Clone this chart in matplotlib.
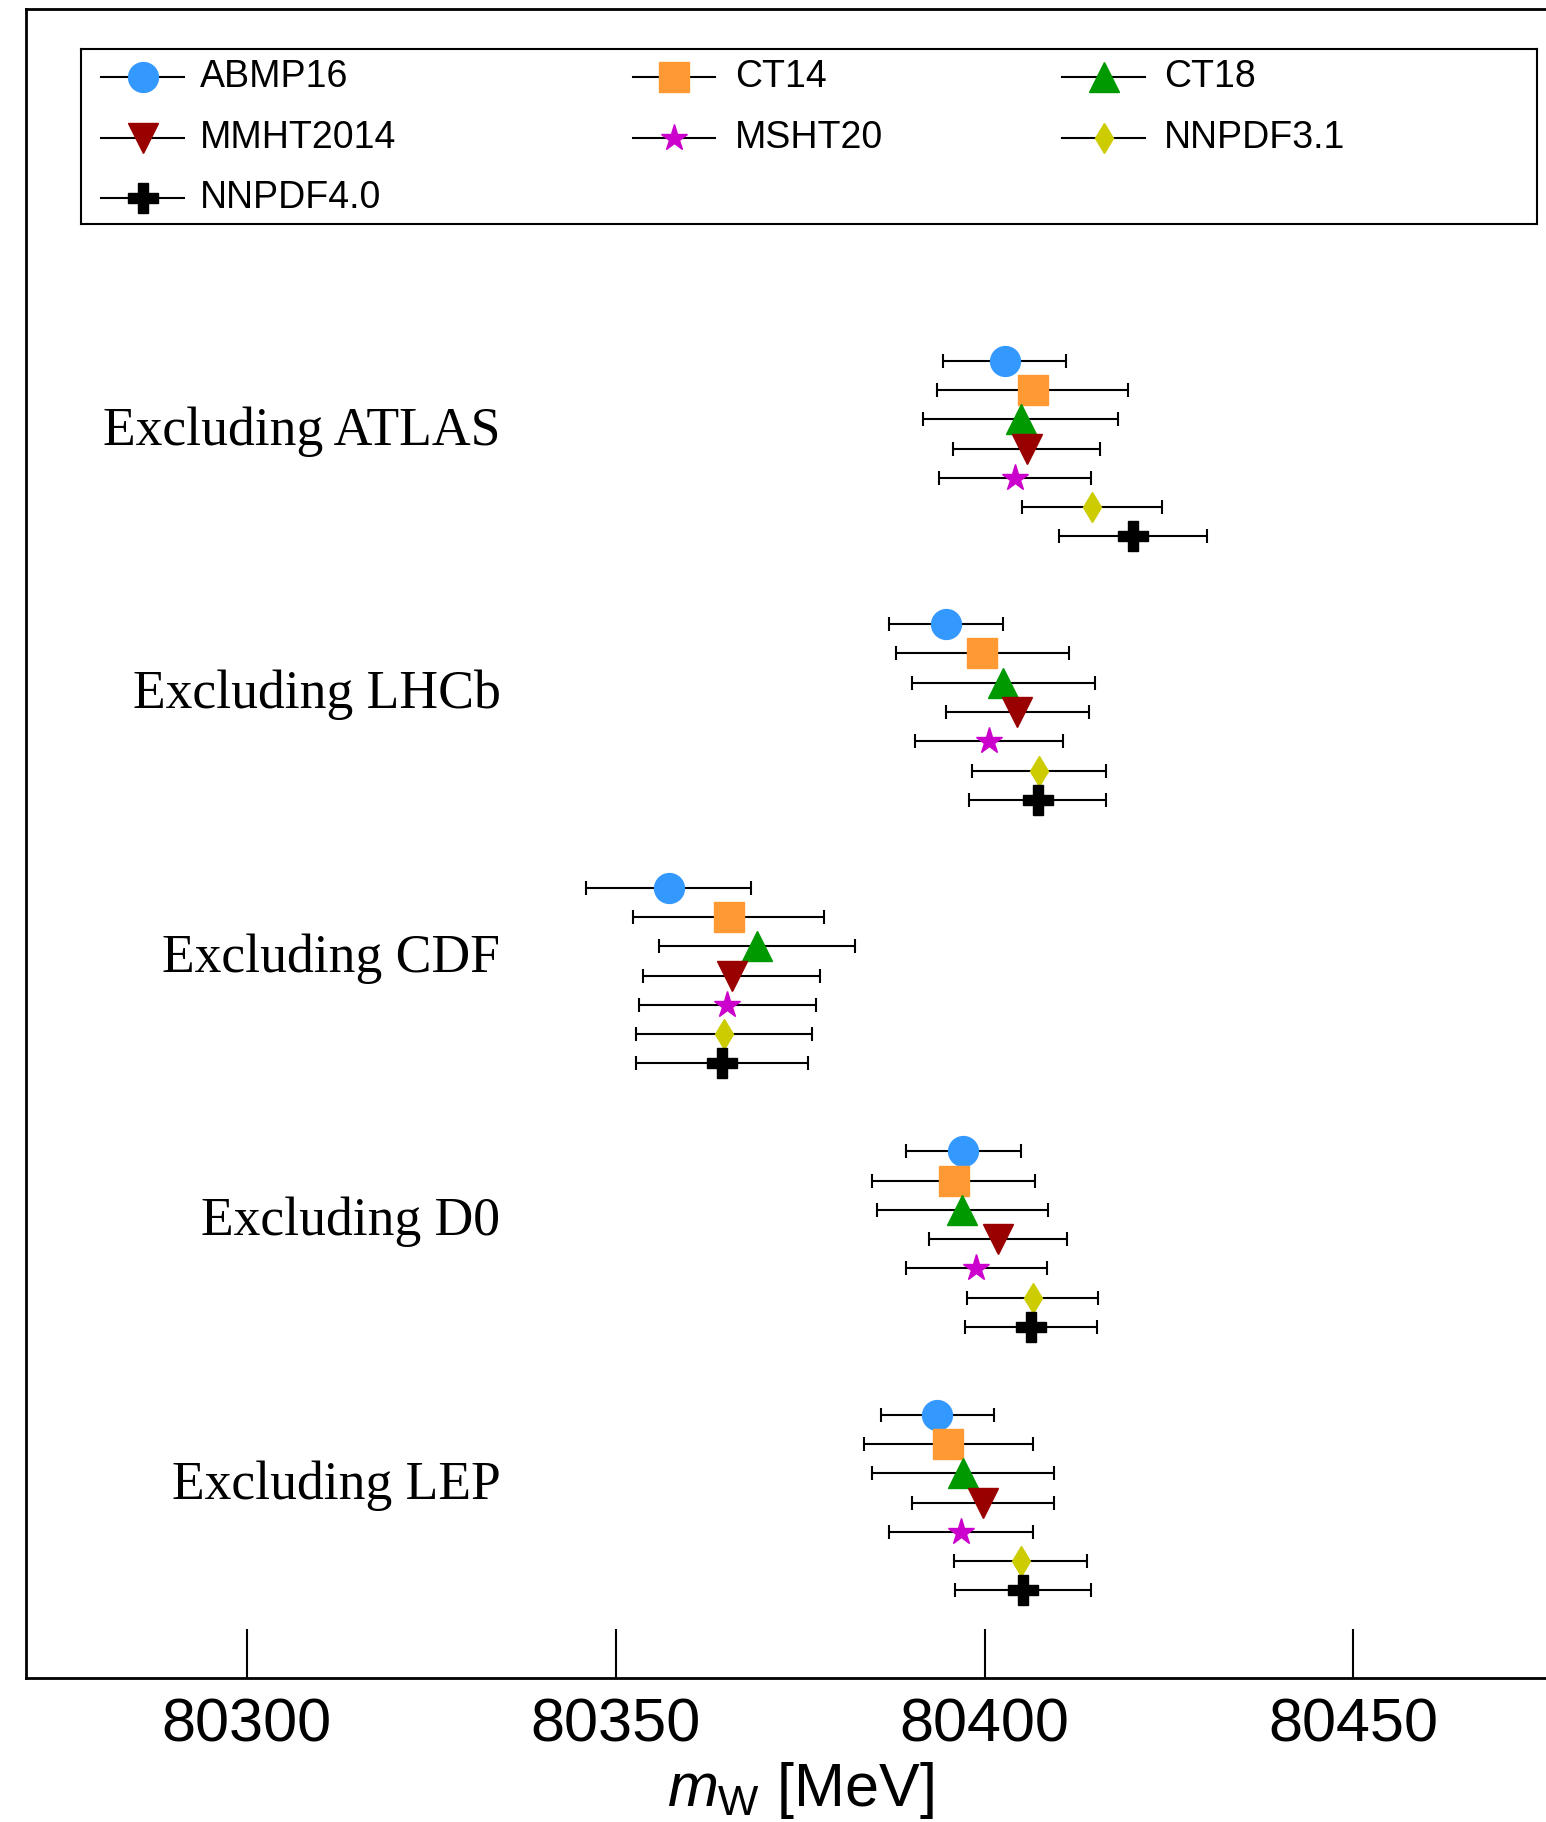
import numpy as np
import matplotlib
matplotlib.use("Agg")
import matplotlib.pyplot as plt

plt.rcParams['font.family'] = ['Liberation Sans', 'DejaVu Sans']
plt.rcParams['mathtext.fontset'] = 'custom'
plt.rcParams['mathtext.it'] = 'Liberation Sans:italic'
plt.rcParams['mathtext.rm'] = 'Liberation Sans'

# datasets excluded in each fit
groups = ['Excluding ATLAS', 'Excluding LHCb', 'Excluding CDF', 'Excluding D0', 'Excluding LEP']
pdfs = ['ABMP16', 'CT14', 'CT18', 'MMHT2014', 'MSHT20', 'NNPDF3.1', 'NNPDF4.0']

# m_W central values [MeV], one entry per group
mw_abmp16 = [80402.7, 80394.8, 80357.2, 80397.1, 80393.6]
mw_ct14 = [80406.5, 80399.7, 80365.3, 80395.8, 80395.1]
mw_ct18 = [80404.9, 80402.5, 80369.1, 80397.0, 80397.1]
mw_mmht2014 = [80405.7, 80404.4, 80365.7, 80401.8, 80399.8]
mw_msht20 = [80404.1, 80400.6, 80365.1, 80398.9, 80396.8]
mw_nnpdf31 = [80414.6, 80407.4, 80364.7, 80406.5, 80404.9]
mw_nnpdf40 = [80420.1, 80407.2, 80364.4, 80406.3, 80405.2]

# symmetric uncertainties [MeV]
err_abmp16 = [8.3, 7.7, 11.2, 7.8, 7.7]
err_ct14 = [12.9, 11.7, 12.9, 11.0, 11.5]
err_ct18 = [13.2, 12.4, 13.3, 11.6, 12.3]
err_mmht2014 = [10.0, 9.7, 12.0, 9.4, 9.6]
err_msht20 = [10.3, 10.0, 12.0, 9.5, 9.7]
err_nnpdf31 = [9.5, 9.1, 11.9, 8.9, 9.0]
err_nnpdf40 = [10.0, 9.3, 11.6, 9.0, 9.2]

xticks = [80300, 80350, 80400, 80450]

centrals = [mw_abmp16, mw_ct14, mw_ct18, mw_mmht2014, mw_msht20, mw_nnpdf31, mw_nnpdf40]
errors = [err_abmp16, err_ct14, err_ct18, err_mmht2014, err_msht20, err_nnpdf31, err_nnpdf40]
colors = ['#3399ff', '#ff9933', '#009900', '#990000', '#cc00cc', '#cccc00', '#000000']
markers = ['o', 's', '^', 'v', '*', 'd', 'P']
msizes = [21.5, 22, 21.5, 21.5, 20, 15, 21.5]

W, H = 1546, 1822
fig = plt.figure(figsize=(W / 100, H / 100), dpi=100)
ax = fig.add_axes([25.6 / W, 143.7 / H, 210 * 7.377 / W, (1678.3 - 9.3) / H])

n = len(pdfs)
step = n + 2
for i in range(n):
    rows = np.arange(len(groups)) * step + i
    ax.errorbar(centrals[i], rows, xerr=errors[i], fmt=markers[i], color=colors[i],
                ms=msizes[i], mec=colors[i], ecolor='k', elinewidth=1.5,
                capsize=4.7, capthick=1.5, zorder=3)

for g, name in enumerate(groups):
    ax.text(0.3065, g * step + 2.42, name, transform=ax.get_yaxis_transform(),
            ha='right', va='center', fontsize=38.6, family='Liberation Serif')

ax.set_xlim(80270, 80480)
ax.set_ylim(len(groups) * step, -12)
ax.set_yticks([])
ax.set_xticks(xticks)
ax.tick_params(axis='x', direction='in', length=35, width=1.5, labelsize=44, pad=14)
ax.set_xlabel(r'$m_{\mathrm{W}}$ [MeV]', fontsize=44, labelpad=4)
for s in ax.spines.values():
    s.set_linewidth(2)
ax.spines['right'].set_visible(False)

# legend box drawn by hand to keep the uneven column positions
lax = fig.add_axes([81 / W, 1 - 224 / H, 1456 / W, 175 / H])
lax.set_xlim(81, 1537)
lax.set_ylim(224, 49)
lax.set_xticks([])
lax.set_yticks([])
for s in lax.spines.values():
    s.set_linewidth(1.5)
row_y = [77, 138, 198]
col_line = [(101, 184), (633, 715), (1062, 1145)]
col_text = [200, 735, 1164]
for k, name in enumerate(pdfs):
    y = row_y[k // 3]
    x0, x1 = col_line[k % 3]
    lax.plot([x0, x1], [y, y], color='k', lw=1.5)
    lax.plot((x0 + x1) / 2, y, marker=markers[k], color=colors[k], ms=msizes[k], mec=colors[k])
    lax.text(col_text[k % 3], y, name, fontsize=27, va='center', ha='left')

fig.savefig('out.png', dpi=100)
